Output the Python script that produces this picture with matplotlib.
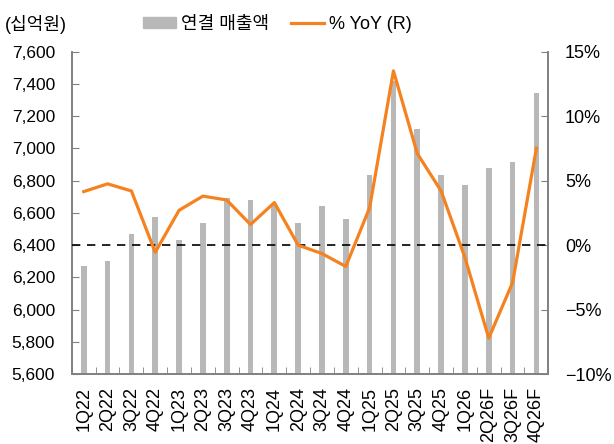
import matplotlib
matplotlib.use('Agg')
import matplotlib.pyplot as plt
import numpy as np
from matplotlib.patches import Patch
from matplotlib.lines import Line2D

plt.rcParams['font.family'] = ['Liberation Sans', 'Noto Sans CJK KR', 'DejaVu Sans']
plt.rcParams['axes.unicode_minus'] = True

quarters = ['1Q22', '2Q22', '3Q22', '4Q22', '1Q23', '2Q23', '3Q23', '4Q23',
            '1Q24', '2Q24', '3Q24', '4Q24', '1Q25', '2Q25', '3Q25', '4Q25',
            '1Q26', '2Q26F', '3Q26F', '4Q26F']
sales = [6270, 6300, 6470, 6575, 6435, 6540, 6690, 6680,
         6650, 6540, 6645, 6565, 6835, 7420, 7120, 6835,
         6770, 6880, 6915, 7345]
yoy = [4.15, 4.75, 4.2, -0.55, 2.7, 3.8, 3.5, 1.6,
       3.3, 0.0, -0.65, -1.65, 2.9, 13.5, 7.1, 4.2,
       -0.95, -7.2, -2.9, 7.5]

bar_color = '#b8b8b8'
line_color = '#f5821f'
spine_color = '#808080'

fig = plt.figure(figsize=(6.14, 4.44), dpi=100)
ax = fig.add_axes([0.117, 0.157, 0.776, 0.727])
ax2 = ax.twinx()

x = np.arange(len(quarters))
ax.bar(x, sales, width=0.24, color=bar_color, zorder=2)
ax.set_ylim(5600, 7600)
ax.set_yticks(np.arange(5600, 7601, 200))
ax.set_yticklabels([f'{v:,}' for v in range(5600, 7601, 200)], fontsize=12.5)
ax.set_xlim(-0.5, len(quarters) - 0.5)
ax.set_xticks(x)
ax.set_xticklabels(quarters, rotation=90, fontsize=13)
ax.set_xticks(np.arange(-0.5, len(quarters), 1), minor=True)
ax.tick_params(axis='x', which='major', length=0, pad=9)
ax.tick_params(axis='x', which='minor', direction='in', length=5, color=spine_color)
ax.tick_params(axis='y', direction='in', length=5, color=spine_color, pad=12)

ax2.plot(x, yoy, color=line_color, lw=2.3, zorder=4)
ax2.axhline(0, color='black', lw=1.2, ls=(0, (5, 4)), zorder=3)
ax2.set_ylim(-10, 15)
ax2.set_yticks(np.arange(-10, 16, 5))
ax2.set_yticklabels([f'{v}%'.replace('-', '\u2212') for v in range(-10, 16, 5)], fontsize=13)
ax2.tick_params(axis='y', direction='in', length=5, color=spine_color, pad=12)

for a in (ax, ax2):
    a.spines['top'].set_visible(False)
    for s in ('left', 'right', 'bottom'):
        a.spines[s].set_color(spine_color)
        a.spines[s].set_linewidth(1.2)

fig.text(0.008, 0.945, '(십억원)', fontsize=13, va='center')
handles = [Patch(color=bar_color), Line2D([0], [0], color=line_color, lw=2.3)]
fig.legend(handles, ['연결 매출액', '% YoY (R)'], loc='center', bbox_to_anchor=(0.452, 0.945),
           ncol=2, frameon=False, fontsize=13, handlelength=1.8, handleheight=0.5,
           columnspacing=1.2, handletextpad=0.3)

fig.savefig('out.png', dpi=100)
